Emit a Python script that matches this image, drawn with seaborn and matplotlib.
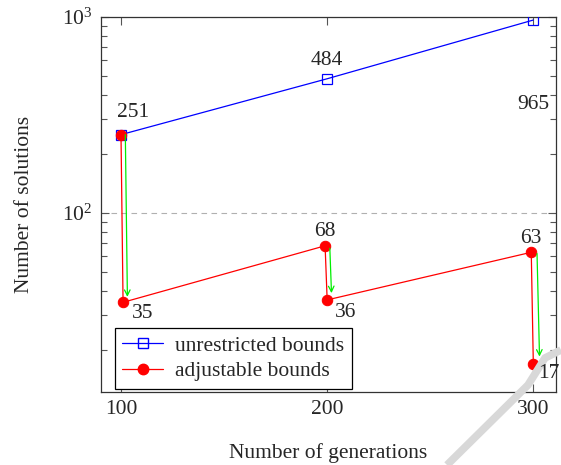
import numpy as np
import matplotlib
matplotlib.use("Agg")
import matplotlib.pyplot as plt
import seaborn as sns
from matplotlib.lines import Line2D

# data
gens_unrestricted = [100, 200, 300]
unrestricted = [251, 484, 965]

gens_adjustable = [100, 101, 199, 200, 299, 300]
adjustable = [251, 35, 68, 36, 63, 17]

# green arrows: start (x, y) -> end (x, y)
arrow_x0 = [102.1, 201.3, 301.8]
arrow_y0 = [251, 66, 62]
arrow_x1 = [103.1, 202.1, 303.0]
arrow_y1 = [37.3, 39, 18.5]

# value labels: text, anchor point, offset in pixels
label_text = ["251", "484", "965", "35", "68", "36", "63", "17"]
label_x = [100, 200, 300, 101, 199, 200, 299, 300]
label_y = [251, 484, 965, 35, 68, 36, 63, 17]
label_dx = [12, 0, 0, 20, 0, 18, 0, 16]
label_dy = [22, 18, -84, -11, 14, -13, 14, -10]

FS = 15.5

sns.set_style("ticks")
plt.rcParams['font.family'] = ['Liberation Serif', 'DejaVu Serif']
plt.rcParams['mathtext.fontset'] = 'stix'
plt.rcParams['font.size'] = FS

fig = plt.figure(figsize=(5.61, 4.65), dpi=100)
ax = fig.add_axes([101 / 561, 1 - 392 / 465, (556 - 101) / 561, (392 - 17) / 465])

sns.lineplot(x=gens_unrestricted, y=unrestricted, ax=ax, color="blue", lw=0.9,
             marker="s", markersize=6.7, markerfacecolor="none",
             markeredgecolor="blue", markeredgewidth=0.9,
             estimator=None, sort=False, zorder=3)
sns.lineplot(x=gens_adjustable, y=adjustable, ax=ax, color="red", lw=0.9,
             marker="o", markersize=7.5, markerfacecolor="red",
             markeredgecolor="red", estimator=None, sort=False, zorder=4)

for x0, y0, x1, y1 in zip(arrow_x0, arrow_y0, arrow_x1, arrow_y1):
    ax.annotate("", xy=(x1, y1), xytext=(x0, y0),
                arrowprops=dict(arrowstyle="->", color="#00ee00", lw=0.9,
                                shrinkA=0, shrinkB=0, mutation_scale=10),
                zorder=5)

for t, x, y, dx, dy in zip(label_text, label_x, label_y, label_dx, label_dy):
    ax.annotate(t, xy=(x, y), xytext=(dx, dy), textcoords="offset pixels",
                ha="center", va="center", fontsize=FS, zorder=6)

ax.set_yscale("log")
ax.set_xlim(90.3, 311)
ax.set_ylim(12.2, 1000)
ax.set_xticks([100, 200, 300])
ax.set_yticks([100, 1000])
ax.yaxis.grid(True, which="major", color="#b0b0b0", ls=(0, (5, 4)), lw=0.8)
ax.set_axisbelow(True)

ax.tick_params(which="both", direction="in", top=True, right=True,
               color="#555555", width=0.8)
ax.tick_params(which="major", length=6, labelsize=FS, pad=6)
ax.tick_params(which="minor", length=4)
for s in ax.spines.values():
    s.set_color("#333333")
    s.set_linewidth(0.9)

ax.set_xlabel("Number of generations", fontsize=FS, labelpad=17)
ax.set_ylabel("Number of solutions", fontsize=FS, labelpad=20)

handles = [
    Line2D([], [], color="blue", lw=0.9, marker="s", markersize=6.7,
           markerfacecolor="none", markeredgecolor="blue"),
    Line2D([], [], color="red", lw=0.9, marker="o", markersize=7.5,
           markerfacecolor="red", markeredgecolor="red"),
]
leg = ax.legend(handles, ["unrestricted bounds", "adjustable bounds"],
                loc="lower left", bbox_to_anchor=(0.03, 0.008), fontsize=FS,
                frameon=True, fancybox=False, framealpha=1, edgecolor="black",
                handlelength=1.9, borderpad=0.35, labelspacing=0.25,
                handletextpad=0.55, borderaxespad=0)
leg.get_frame().set_linewidth(0.9)
leg.set_zorder(7)

# light gray stroke in the lower right corner
ax.add_line(Line2D([447 / 561, 528 / 561, 545 / 561, 561 / 561],
                   [0, 1 - 385 / 465, 1 - 358 / 465, 1 - 350 / 465],
                   transform=fig.transFigure, color="#d8d8d8", lw=5.5,
                   solid_capstyle="butt", zorder=5.5, clip_on=False))

fig.savefig("out.png", dpi=100)
